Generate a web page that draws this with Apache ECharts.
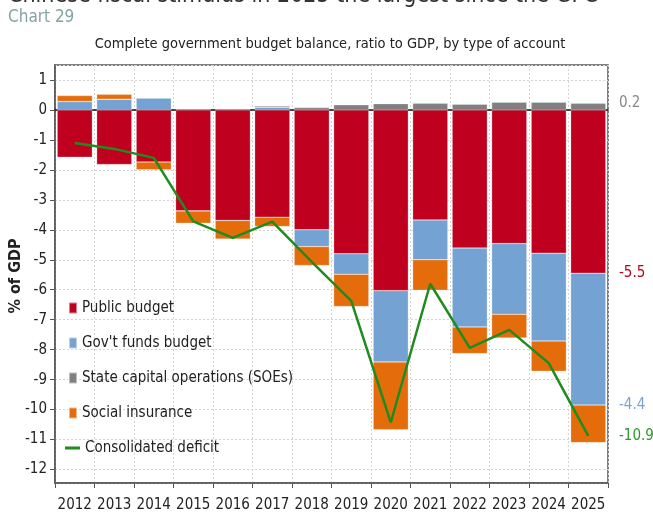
<!DOCTYPE html>
<html><head><meta charset="utf-8">
<script src="https://cdn.jsdelivr.net/npm/echarts@6/dist/echarts.min.js"></script>
<style>html,body{margin:0;padding:0;background:#fff}#c{width:653px;height:517px}</style>
</head><body><div id="c"></div>
<script>
const years = ['2012','2013','2014','2015','2016','2017','2018','2019','2020','2021','2022','2023','2024','2025'];
const publicBudget = [-1.58,-1.82,-1.74,-3.37,-3.69,-3.58,-4.00,-4.80,-6.03,-3.67,-4.61,-4.46,-4.78,-5.45];
const govFunds     = [0.28,0.36,0.40,0,0,0.09,-0.56,-0.68,-2.38,-1.33,-2.63,-2.36,-2.93,-4.40];
const soe          = [0,0,0,0.03,0.03,0.04,0.08,0.17,0.21,0.22,0.19,0.26,0.26,0.22];
const social       = [0.20,0.16,-0.26,-0.41,-0.62,-0.31,-0.63,-1.08,-2.26,-1.02,-0.89,-0.79,-1.01,-1.25];
const consolidated = [-1.10,-1.30,-1.60,-3.72,-4.27,-3.73,-5.07,-6.37,-10.43,-5.80,-7.94,-7.34,-8.45,-10.88];

const FONT = "'DejaVu Sans Condensed','Noto Sans',sans-serif";
const C = {red:'#c0001f', blue:'#74a2d2', grey:'#808080', orange:'#e46c0a', green:'#1e8c1e'};

const chart = echarts.init(document.getElementById('c'), null, {renderer:'canvas'});
const barCommon = {type:'bar', stack:'total', barCategoryGap:'11%', xAxisIndex:0};
function barSeries(name, data, color){
  return Object.assign({name:name, data:data, color:color,
    itemStyle:{color:color, borderColor:'rgba(255,255,255,0.5)', borderWidth:0.5}}, barCommon);
}
const option = {
  animation:false,
  backgroundColor:'#fff',
  textStyle:{fontFamily:FONT},
  grid:{left:55,right:45,top:65,bottom:34,show:true,borderColor:'#555',borderWidth:1.5},
  xAxis:[
    {type:'category',data:years,position:'bottom',
     axisLine:{onZero:false,lineStyle:{color:'#555',width:1.5}},
     axisTick:{show:true,length:5,lineStyle:{color:'#555'}},
     axisLabel:{interval:0,color:'#222',fontSize:15,margin:15,fontFamily:FONT},
     splitLine:{show:true,lineStyle:{color:'#d4d4d4',type:[2,2]}}},
    {type:'category',data:years,position:'top',
     axisLine:{onZero:true,lineStyle:{color:'#111',width:1.5}},
     axisTick:{show:false},axisLabel:{show:false},splitLine:{show:false}}
  ],
  yAxis:{type:'value',min:-12.45,max:1.5,splitNumber:14,
    axisLine:{show:true,lineStyle:{color:'#555',width:1.5}},
    axisTick:{show:true,length:5,lineStyle:{color:'#555'}},
    axisLabel:{color:'#222',fontSize:15,margin:8,fontFamily:FONT,showMinLabel:false,showMaxLabel:false},
    splitLine:{show:true,lineStyle:{color:'#d4d4d4',type:[2,2]}}},
  legend:[
    {data:['Public budget',"Gov't funds budget",'State capital operations (SOEs)','Social insurance'],
     orient:'vertical',left:63,top:293,itemWidth:8,itemHeight:11,itemGap:15,icon:'rect',
     textStyle:{fontSize:15,lineHeight:20,color:'#222',fontFamily:FONT}},
    {data:[{name:'Consolidated deficit',icon:'rect'}],orient:'vertical',left:60,top:433,itemWidth:15,itemHeight:3,
     textStyle:{fontSize:15,lineHeight:20,color:'#222',fontFamily:FONT}}
  ],
  series:[
    barSeries('Public budget', publicBudget, C.red),
    barSeries("Gov't funds budget", govFunds, C.blue),
    barSeries('State capital operations (SOEs)', soe, C.grey),
    barSeries('Social insurance', social, C.orange),
    {name:'Consolidated deficit',type:'line',data:consolidated,color:C.green,symbol:'none',z:5,
     lineStyle:{color:C.green,width:2.5}}
  ]
};
chart.setOption(option);

// end labels computed from the data
const n = years.length - 1;
const redEnd = publicBudget[n];
const blueEnd = publicBudget[n] + Math.min(govFunds[n],0);
const greyEnd = Math.max(govFunds[n],0) + soe[n];
const py = v => chart.convertToPixel({yAxisIndex:0}, v);
const lx = 619;
function endLabel(v, txt, color){
  return {type:'text', x:lx, y:py(v), style:{text:txt, fill:color, font:"15px "+FONT, verticalAlign:'middle', align:'left'}};
}
chart.setOption({graphic:[
  {type:'text', left:8, top:-15, style:{text:'Chinese fiscal stimulus in 2025 the largest since the GFC', fill:'#333', font:"23px "+FONT}},
  {type:'text', left:8, top:9, style:{text:'Chart 29', fill:'#86a3a3', font:"17px "+FONT}},
  {type:'text', x:330, y:44, style:{text:'Complete government budget balance, ratio to GDP, by type of account', fill:'#222', font:"14.5px "+FONT, align:'center', verticalAlign:'middle'}},
  {type:'text', x:16, y:276, rotation:Math.PI/2, style:{text:'% of GDP', fill:'#222', font:"bold 16px "+FONT, align:'center', verticalAlign:'middle'}},
  endLabel(greyEnd, greyEnd.toFixed(1), '#888'),
  endLabel(redEnd, redEnd.toFixed(1), C.red),
  endLabel(blueEnd, govFunds[n].toFixed(1), '#7ca3d3'),
  endLabel(consolidated[n], consolidated[n].toFixed(1), '#2a9a2a')
]});
</script></body></html>
